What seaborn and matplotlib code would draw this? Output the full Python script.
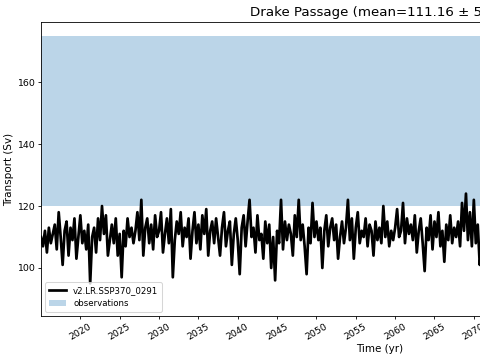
"""
Drake Passage transport time series (v2.LR.SSP370_0291) vs observed range.
"""

import numpy as np
import pandas as pd
import seaborn as sns
import matplotlib
matplotlib.use("Agg")
import matplotlib.pyplot as plt

# quarterly transport values (Sv), 2015.0 onward
transport = [
    110, 107, 112, 105,  113, 108, 111, 114,  106, 118, 110, 101,
    112, 115, 104, 113,  109, 116, 103, 110,  117, 108, 112, 106,
    114, 95, 110, 113,   105, 116, 109, 120,  111, 117, 104, 109,
    114, 108, 116, 104,  111, 97, 112, 107,   116, 110, 113, 108,
    112, 118, 109, 122,  104, 113, 116, 108,  114, 106, 117, 110,
    112, 118, 105, 111,  116, 108, 119, 97,   109, 115, 111, 118,
    107, 113, 110, 116,  103, 112, 118, 108,  114, 106, 117, 111,
    119, 104, 112, 115,  108, 116, 110, 104,  113, 118, 107, 112,
    115, 101, 111, 116,  109, 98, 113, 117,   107, 115, 122, 110,
    113, 105, 117, 109,  111, 103, 115, 108,  114, 100, 110, 96,
    112, 108, 122, 106,  115, 109, 114, 111,  104, 117, 110, 122,
    109, 114, 107, 98,   113, 108, 121, 110,  115, 109, 113, 100,
    112, 117, 107, 113,  116, 109, 114, 103,  110, 115, 108, 113,
    122, 109, 116, 103,  113, 118, 108, 112,  110, 116, 107, 114,
    112, 104, 115, 109,  113, 108, 120, 110,  115, 107, 112, 109,
    113, 119, 110, 112,  121, 108, 116, 111,  114, 109, 117, 105,
    112, 116, 108, 99,   113, 109, 117, 106,  115, 110, 118, 107,
    112, 102, 114, 109,  117, 108, 113, 110,  115, 107, 121, 112,
    124, 109, 118, 107,  122, 108, 114, 101,  107, 103,
]
start_year = 2015.0
step = 0.25
obs_range = (120, 175)
run_name = "v2.LR.SSP370_0291"
title = "Drake Passage (mean=111.16 \u00b1 5.04)"

df = pd.DataFrame({
    "time": start_year + step * np.arange(len(transport)),
    "transport": transport,
})

fig = plt.figure(figsize=(6.4, 4.8), dpi=75)
ax = fig.add_axes([41 / 480, 44 / 360, 1.41, 294 / 360])

ax.axhspan(obs_range[0], obs_range[1], color="C0", alpha=0.3, lw=0,
           label="observations")
sns.lineplot(data=df, x="time", y="transport", color="black", lw=2.6,
             label=run_name, ax=ax)

ax.set_xlim(2015, 2101)
ax.set_ylim(84.5, 179.4)
ax.set_xticks(np.arange(2020, 2101, 5))
ax.set_yticks([100, 120, 140, 160])
ax.tick_params(labelsize=9, length=3, pad=3)
plt.setp(ax.get_xticklabels(), rotation=30, ha="center")
ax.set_xlabel("Time (yr)", labelpad=2)
ax.set_ylabel("Transport (Sv)", labelpad=3)
ax.set_title(title, fontsize=12.8)

handles, labels = ax.get_legend_handles_labels()
order = [labels.index(run_name), labels.index("observations")]
ax.legend([handles[i] for i in order], [labels[i] for i in order],
          loc="lower left", fontsize="small")

fig.savefig("out.png", dpi=75)
